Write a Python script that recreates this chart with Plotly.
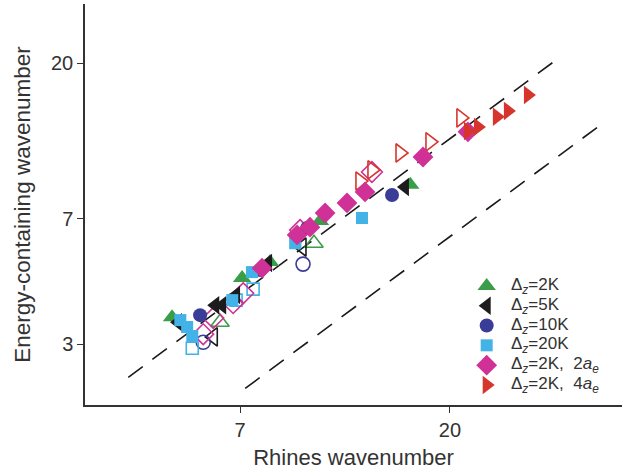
import plotly.graph_objects as go

# ---- data ----
g_fx = [4.98, 7.07, 8.13, 10.44, 16.4]
g_fy = [3.60, 4.69, 5.22, 6.89, 8.80]
g_ox = [6.33, 10.13]
g_oy = [3.48, 5.93]

k_fx = [5.13, 6.18, 6.40, 6.86, 8.05, 9.31, 15.97]
k_fy = [3.48, 3.90, 3.90, 4.18, 5.19, 6.14, 8.67]
k_ox = [6.12, 9.54]
k_oy = [3.15, 5.78]

c_fx = [5.73, 7.74, 9.79, 14.97]
c_fy = [3.65, 4.95, 6.57, 8.21]
c_ox = [5.82, 9.59]
c_oy = [3.04, 5.15]

s_fx = [5.19, 5.37, 5.51, 6.73, 7.43, 9.22, 12.88]
s_fy = [3.53, 3.37, 3.17, 4.04, 4.88, 5.93, 7.03]
s_ox = [5.51, 7.47, 6.86]
s_oy = [2.92, 4.35, 4.04]

d_fx = [7.81, 9.31, 9.93, 10.71, 11.95, 13.08, 17.48, 21.89]
d_fy = [5.01, 6.27, 6.61, 7.27, 7.78, 8.38, 10.61, 12.57]
d_ox = [5.82, 6.12, 6.76, 7.11, 9.45, 13.54]
d_oy = [3.21, 3.58, 3.96, 4.23, 6.48, 9.59]

r_fx = [21.89, 23.01, 25.30, 26.73, 29.55]
r_fy = [12.65, 13.00, 13.91, 14.48, 16.13]
r_ox = [12.75, 13.54, 15.58, 18.10, 21.13]
r_oy = [9.02, 9.72, 10.90, 11.75, 13.81]

guide1_x = [4.0, 34.3]
guide1_k = 0.6
guide2_x = [7.18, 43.4]
guide2_k = 0.31

x_ticks = [7, 20]
y_ticks = [3, 7, 20]

series_names = [
    "Δ<sub><i>z</i></sub>=2K",
    "Δ<sub><i>z</i></sub>=5K",
    "Δ<sub><i>z</i></sub>=10K",
    "Δ<sub><i>z</i></sub>=20K",
    "Δ<sub><i>z</i></sub>=2K,&nbsp; 2<i>a</i><sub><i>e</i></sub>",
    "Δ<sub><i>z</i></sub>=2K,&nbsp; 4<i>a</i><sub><i>e</i></sub>",
]
series_colors = ["#3a9e48", "#1c1c1c", "#3a3d97", "#43b2e6", "#cf3196", "#d6352e"]
series_symbols = ["triangle-up", "triangle-left", "circle", "square", "diamond", "triangle-right"]
series_sizes = [16, 16, 14, 12, 16, 16]
filled_x = [g_fx, k_fx, c_fx, s_fx, d_fx, r_fx]
filled_y = [g_fy, k_fy, c_fy, s_fy, d_fy, r_fy]
open_x = [g_ox, k_ox, c_ox, s_ox, d_ox, r_ox]
open_y = [g_oy, k_oy, c_oy, s_oy, d_oy, r_oy]

# legend layout (paper fractions of the plot area)
leg_marker_x = 0.748
leg_text_x = 0.789
leg_top_y = 0.297
leg_step = 0.0494

fig = go.Figure()

for gx, k in [(guide1_x, guide1_k), (guide2_x, guide2_k)]:
    fig.add_trace(go.Scatter(x=gx, y=[v * k for v in gx], mode="lines",
                             line=dict(color="#1a1a1a", width=1.6, dash="18px,12px"),
                             showlegend=False, hoverinfo="skip"))

for i in range(6):
    col, sym, sz = series_colors[i], series_symbols[i], series_sizes[i]
    fig.add_trace(go.Scatter(x=open_x[i], y=open_y[i], mode="markers", showlegend=False,
                             marker=dict(symbol=sym + "-open", size=sz, color=col, opacity=1,
                                         line=dict(width=1.6, color=col))))
for i in range(6):
    col, sym, sz = series_colors[i], series_symbols[i], series_sizes[i]
    fig.add_trace(go.Scatter(x=filled_x[i], y=filled_y[i], mode="markers",
                             name=series_names[i], showlegend=False,
                             marker=dict(symbol=sym, size=sz, color=col, opacity=1,
                                         line=dict(width=0))))

# hand-made legend (tighter row spacing than plotly's legend allows)
leg_y = [leg_top_y - i * leg_step for i in range(6)]
fig.add_trace(go.Scatter(x=[leg_marker_x] * 6, y=leg_y, xaxis="x2", yaxis="y2",
                         mode="markers", showlegend=False, hoverinfo="skip",
                         marker=dict(symbol=series_symbols, size=series_sizes, opacity=1,
                                     color=series_colors, line=dict(width=0))))
annotations = []
for i in range(6):
    annotations.append(dict(xref="paper", yref="paper", x=leg_text_x, y=leg_y[i],
                            xanchor="left", yanchor="middle", showarrow=False,
                            text=series_names[i], font=dict(size=17, color="#333333")))

fig.update_layout(
    width=625, height=471,
    margin=dict(l=85, r=3, t=4, b=66),
    paper_bgcolor="white", plot_bgcolor="white",
    font=dict(family="Liberation Sans, Arial, sans-serif", color="#333333"),
    showlegend=False,
    annotations=annotations,
    xaxis=dict(type="log", range=[0.508, 1.675], tickvals=x_ticks,
               ticktext=[str(v) for v in x_ticks], ticks="outside", ticklen=6,
               tickcolor="#333333", showline=True, linecolor="#333333", linewidth=1.5,
               showgrid=False, zeroline=False, tickfont=dict(size=20),
               title=dict(text="Rhines wavenumber", font=dict(size=22), standoff=10)),
    yaxis=dict(type="log", range=[0.299, 1.474], tickvals=y_ticks,
               ticktext=[str(v) for v in y_ticks], ticks="outside", ticklen=6,
               tickcolor="#333333", showline=True, linecolor="#333333", linewidth=1.5,
               showgrid=False, zeroline=False, tickfont=dict(size=20),
               title=dict(text="Energy-containing wavenumber", font=dict(size=22.5), standoff=14)),
    xaxis2=dict(overlaying="x", range=[0, 1], visible=False, anchor="y2"),
    yaxis2=dict(overlaying="y", range=[0, 1], visible=False, anchor="x2"),
)

fig.write_html("out.html")
